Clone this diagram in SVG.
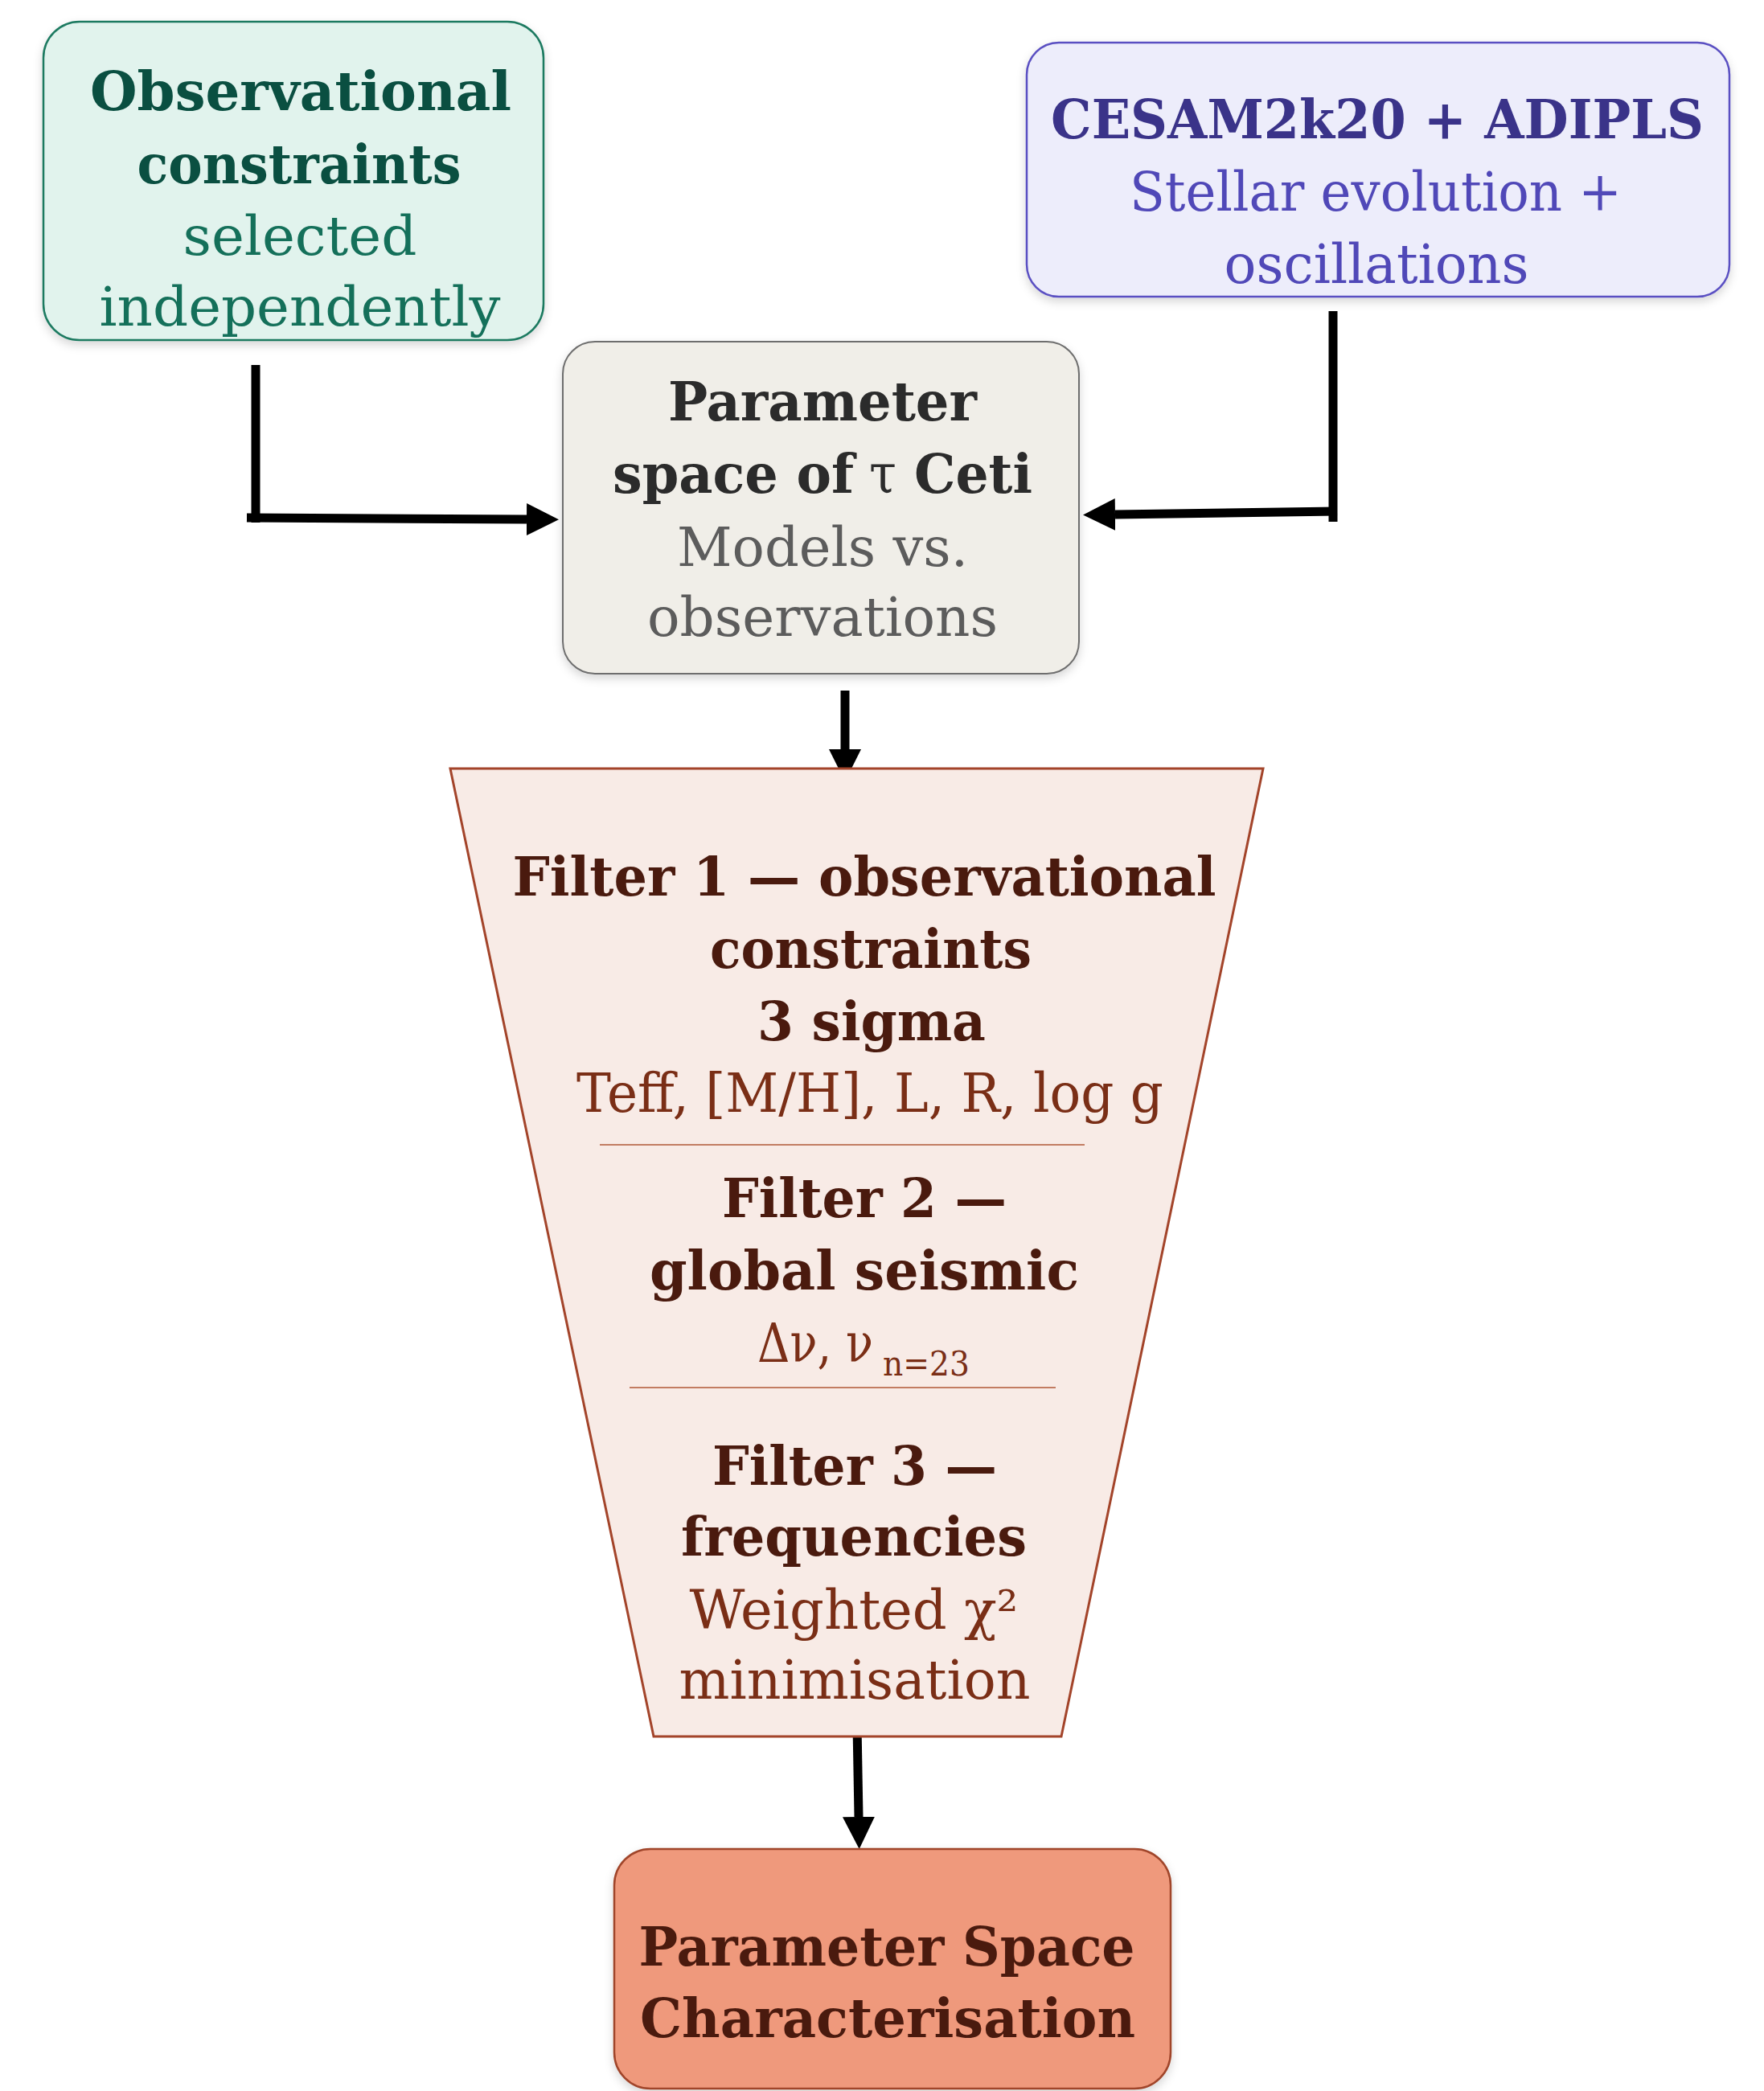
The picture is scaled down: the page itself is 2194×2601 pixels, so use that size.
<svg xmlns="http://www.w3.org/2000/svg" width="2194" height="2601" viewBox="0 0 2194 2601">
<style>
  text { font-family: "DejaVu Serif", "Liberation Serif", serif; font-size: 67px; text-anchor: middle; }
  .b { font-weight: bold; }
  .st { text-anchor: start; }
  .sub { font-size: 42px; }
  .conn { stroke: #000; stroke-width: 11; fill: none; }
  .g-h { fill: #0a4f41; } .g-s { fill: #14705a; }
  .p-h { fill: #3a3389; } .p-s { fill: #5048b8; }
  .n-h { fill: #2b2b2b; } .n-s { fill: #5c5c5c; }
  .r-h { fill: #4a1a0e; } .r-s { fill: #7a2e16; }
</style>
<defs>
  <filter id="sh" x="-10%" y="-10%" width="120%" height="125%">
    <feDropShadow dx="0" dy="5" stdDeviation="6" flood-color="#000" flood-opacity="0.16"/>
  </filter>
  <marker id="ah" markerUnits="userSpaceOnUse" markerWidth="40" markerHeight="40" viewBox="0 0 36 36" refX="0" refY="18" orient="auto">
    <path d="M0,0 L36,18 L0,36 z" fill="#000"/>
  </marker>
</defs>
<rect width="2194" height="2601" fill="#fff"/>

<g id="connectors">
  <line class="conn" x1="318" y1="454" x2="318" y2="650"/>
  <line class="conn" x1="307" y1="644" x2="655" y2="646" marker-end="url(#ah)"/>
  <line class="conn" x1="1658" y1="387" x2="1658" y2="649"/>
  <line class="conn" x1="1663" y1="636" x2="1387" y2="640" marker-end="url(#ah)"/>
  <line class="conn" x1="1051" y1="859" x2="1051" y2="932" marker-end="url(#ah)"/>
  <line class="conn" x1="1066" y1="2146" x2="1068" y2="2260" marker-end="url(#ah)"/>
</g>

<g id="obs">
  <rect x="54" y="27" width="622" height="396" rx="45" fill="#e1f3ed" stroke="#1c7a61" stroke-width="2.5" filter="url(#sh)"/>
  <text class="b g-h" x="374" y="137" textLength="524" lengthAdjust="spacingAndGlyphs">Observational</text>
  <text class="b g-h" x="372" y="228" textLength="403" lengthAdjust="spacingAndGlyphs">constraints</text>
  <text class="g-s" x="373" y="317" textLength="291" lengthAdjust="spacingAndGlyphs">selected</text>
  <text class="g-s" x="373" y="405" textLength="499" lengthAdjust="spacingAndGlyphs">independently</text>
</g>

<g id="cesam">
  <rect x="1277" y="53" width="874" height="316" rx="40" fill="#ededfb" stroke="#5a50c2" stroke-width="2.5" filter="url(#sh)"/>
  <text class="b p-h" x="1713" y="172" textLength="812" lengthAdjust="spacingAndGlyphs">CESAM2k20 + ADIPLS</text>
  <text class="p-s" x="1711" y="262" textLength="612" lengthAdjust="spacingAndGlyphs">Stellar evolution +</text>
  <text class="p-s" x="1712" y="352" textLength="379" lengthAdjust="spacingAndGlyphs">oscillations</text>
</g>

<g id="paramspace">
  <rect x="700" y="425" width="642" height="413" rx="40" fill="#f0eee8" stroke="#6e6e6e" stroke-width="2" filter="url(#sh)"/>
  <text class="b n-h" x="1023" y="523" textLength="384" lengthAdjust="spacingAndGlyphs">Parameter</text>
  <text class="b n-h st" x="762" y="613" textLength="300" lengthAdjust="spacingAndGlyphs">space of</text>
  <text class="n-h st" x="1081" y="613" textLength="34" lengthAdjust="spacingAndGlyphs">τ</text>
  <text class="b n-h st" x="1137" y="613" textLength="147" lengthAdjust="spacingAndGlyphs">Ceti</text>
  <text class="n-s" x="1023" y="704" textLength="362" lengthAdjust="spacingAndGlyphs">Models vs.</text>
  <text class="n-s" x="1023" y="791" textLength="436" lengthAdjust="spacingAndGlyphs">observations</text>
</g>

<g id="filters">
  <polygon points="560,956 1571,956 1320,2160 813,2160" fill="#f8ebe6" stroke="#a3442a" stroke-width="3" stroke-linejoin="miter"/>
  <text class="b r-h" x="1075" y="1114" textLength="875" lengthAdjust="spacingAndGlyphs">Filter 1 — observational</text>
  <text class="b r-h" x="1083" y="1204" textLength="400" lengthAdjust="spacingAndGlyphs">constraints</text>
  <text class="b r-h" x="1084" y="1294" textLength="284" lengthAdjust="spacingAndGlyphs">3 sigma</text>
  <text class="r-s" x="1082" y="1383" textLength="730" lengthAdjust="spacingAndGlyphs">Teff, [M/H], L, R, log g</text>
  <line x1="746" y1="1424" x2="1349" y2="1424" stroke="#c27c62" stroke-width="2"/>
  <text class="b r-h" x="1075" y="1514" textLength="354" lengthAdjust="spacingAndGlyphs">Filter 2 —</text>
  <text class="b r-h" x="1075" y="1604" textLength="534" lengthAdjust="spacingAndGlyphs">global seismic</text>
  <text class="r-s st" x="942" y="1694" textLength="144" lengthAdjust="spacingAndGlyphs">Δν, ν</text>
  <text class="r-s st sub" x="1098" y="1711" textLength="108" lengthAdjust="spacingAndGlyphs">n=23</text>
  <line x1="783" y1="1726" x2="1313" y2="1726" stroke="#c27c62" stroke-width="2"/>
  <text class="b r-h" x="1063" y="1847" textLength="354" lengthAdjust="spacingAndGlyphs">Filter 3 —</text>
  <text class="b r-h" x="1062" y="1935" textLength="430" lengthAdjust="spacingAndGlyphs">frequencies</text>
  <text class="r-s" x="1062" y="2026" textLength="409" lengthAdjust="spacingAndGlyphs">Weighted χ²</text>
  <text class="r-s" x="1063" y="2113" textLength="437" lengthAdjust="spacingAndGlyphs">minimisation</text>
</g>

<g id="result">
  <rect x="764" y="2300" width="692" height="298" rx="45" fill="#ef997b" stroke="#a0452a" stroke-width="2.5" filter="url(#sh)"/>
  <text class="b r-h" x="1103" y="2445" textLength="617" lengthAdjust="spacingAndGlyphs">Parameter Space</text>
  <text class="b r-h" x="1104" y="2534" textLength="616" lengthAdjust="spacingAndGlyphs">Characterisation</text>
</g>
</svg>
